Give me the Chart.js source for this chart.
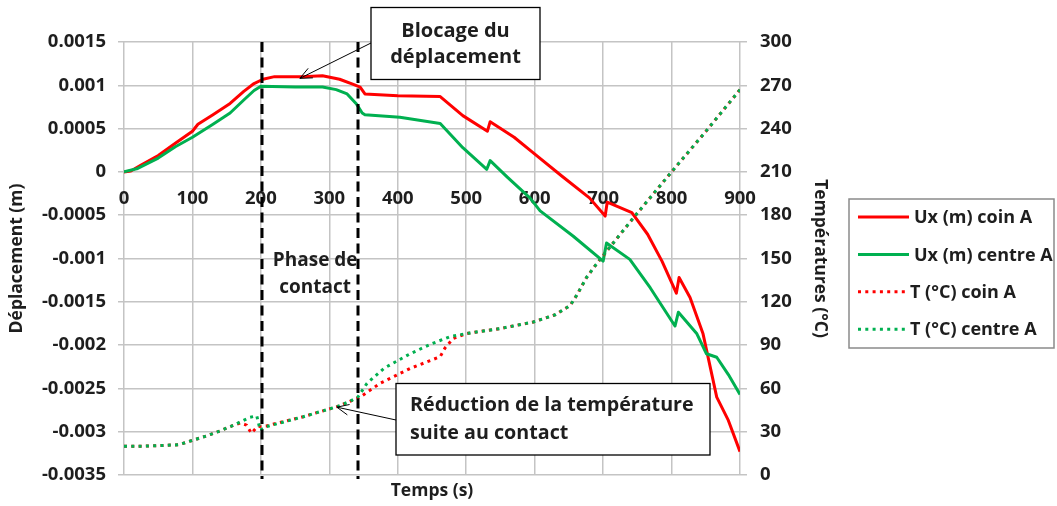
<!DOCTYPE html>
<html>
<head>
<meta charset="utf-8">
<script src="https://cdn.jsdelivr.net/npm/chart.js@4.4.1/dist/chart.umd.min.js"></script>
<style>
  html, body { margin: 0; padding: 0; background: #fff; }
  #wrap { width: 1057px; height: 506px; position: relative; }
</style>
</head>
<body>
<div id="wrap"><canvas id="chart" width="1057" height="506"></canvas></div>
<script>
// Temps (s) and values for each series
const uxCoinTime = [0, 10, 25, 50, 75, 100, 108, 130, 155, 175, 190, 203, 220, 260, 290, 315, 335, 345, 352, 400, 462, 495, 531, 535, 570, 598, 640, 680, 703, 706, 742, 765, 786, 807, 811, 827, 846, 866, 883, 900];
const uxCoin = [0, 0.00001, 0.00008, 0.00019, 0.00033, 0.00047, 0.00055, 0.00066, 0.00079, 0.00093, 0.00102, 0.00107, 0.0011, 0.0011, 0.00111, 0.00107, 0.00101, 0.00098, 0.0009, 0.00088, 0.00087, 0.00065, 0.00047, 0.00058, 0.0004, 0.00022, -0.00005, -0.0003, -0.00051, -0.00035, -0.00047, -0.00072, -0.00103, -0.0014, -0.00122, -0.00145, -0.00187, -0.0026, -0.00287, -0.00323];

const uxCentreTime = [0, 20, 50, 75, 100, 130, 155, 175, 190, 200, 250, 290, 310, 326, 340, 348, 352, 403, 462, 495, 530, 535, 560, 593, 608, 656, 700, 705, 739, 769, 805, 810, 837, 851, 866, 883, 900];
const uxCentre = [0, 0.00004, 0.00016, 0.00029, 0.0004, 0.00055, 0.00068, 0.00083, 0.00094, 0.00099, 0.00098, 0.00098, 0.00095, 0.0009, 0.00078, 0.00068, 0.00066, 0.00063, 0.00056, 0.00028, 0.00003, 0.00013, -0.00006, -0.0003, -0.00045, -0.00074, -0.00103, -0.00082, -0.00101, -0.00134, -0.00178, -0.00162, -0.00187, -0.0021, -0.00214, -0.00234, -0.00257];

const tCoinTime = [0, 30, 60, 80, 100, 120, 140, 160, 170, 179, 186, 195, 208, 262, 311, 330, 345, 374, 418, 462, 469, 481, 500, 550, 598, 630, 652, 662, 676, 690, 700, 744, 800, 850, 900];
const tCoin = [20, 20, 20.5, 21, 24, 27, 30.5, 34.5, 36, 34.6, 29, 33.5, 34, 40.4, 47.3, 51, 54, 63.5, 73.8, 82, 88, 94.6, 98, 101.5, 106, 111, 117.5, 125, 137, 146, 152, 178, 210, 238, 267];

const tCentreTime = [0, 30, 60, 80, 100, 120, 140, 160, 184, 194, 199, 208, 262, 311, 330, 342, 355, 380, 418, 450, 476, 500, 550, 598, 630, 652, 662, 676, 690, 700, 744, 800, 850, 900];
const tCentre = [20, 20, 20.5, 21, 24, 27, 30.5, 34.5, 40, 41, 31, 33.5, 40.4, 47.3, 51, 54.2, 63.5, 74, 84, 91, 95.8, 98, 101.5, 106, 111, 117.5, 125, 137, 146, 152, 178, 210, 238, 267];

// axis tick labels
const timeTicks = ['0', '100', '200', '300', '400', '500', '600', '700', '800', '900'];
const dispTicks = ['-0.0035', '-0.003', '-0.0025', '-0.002', '-0.0015', '-0.001', '-0.0005', '0', '0.0005', '0.001', '0.0015'];
const tempTicks = ['0', '30', '60', '90', '120', '150', '180', '210', '240', '270', '300'];

// contact phase limits (s)
const contactStart = 202;
const contactEnd = 342;

const RED = '#ff0000';
const GREEN = '#00b050';
const GRID = '#c4c4c4';
const INK = '#1e1e1e';
const FONT = '"Open Sans"';

const pts = (xs, ys) => xs.map((x, i) => ({ x, y: ys[i] }));

const dotted = [3, 4.3];

function arrow(ctx, x0, y0, x1, y1) {
  const a = Math.atan2(y1 - y0, x1 - x0);
  const L = 13, w = 0.42;
  ctx.beginPath();
  ctx.moveTo(x0, y0);
  ctx.lineTo(x1, y1);
  ctx.moveTo(x1 - L * Math.cos(a - w), y1 - L * Math.sin(a - w));
  ctx.lineTo(x1, y1);
  ctx.lineTo(x1 - L * Math.cos(a + w), y1 - L * Math.sin(a + w));
  ctx.stroke();
}

const overlay = {
  id: 'overlay',
  afterDatasetsDraw(chart) {
    const { ctx, chartArea: ca, scales } = chart;
    const x = scales.x, y = scales.y, y1 = scales.y1;
    ctx.save();

    // contact phase limits
    ctx.strokeStyle = '#000';
    ctx.lineWidth = 3;
    ctx.setLineDash([10, 5.5]);
    [contactStart, contactEnd].forEach(t => {
      const px = Math.round(x.getPixelForValue(t));
      ctx.beginPath();
      ctx.moveTo(px, ca.top);
      ctx.lineTo(px, ca.bottom + 4);
      ctx.stroke();
    });
    ctx.setLineDash([]);

    ctx.fillStyle = INK;
    ctx.font = 'bold 19px ' + FONT;
    ctx.textAlign = 'center';
    ctx.textBaseline = 'middle';
    const midPx = (x.getPixelForValue(contactStart) + x.getPixelForValue(contactEnd)) / 2 + 5;
    ctx.fillText('Phase de', midPx, 261);
    ctx.fillText('contact', midPx, 288);

    // "Blocage du déplacement" call-out
    ctx.font = 'bold 20px ' + FONT;
    ctx.lineWidth = 1.3;
    ctx.strokeStyle = '#000';
    ctx.fillStyle = '#fff';
    ctx.fillRect(371, 7.5, 169, 72);
    ctx.strokeRect(371, 7.5, 169, 72);
    ctx.fillStyle = INK;
    ctx.fillText('Blocage du', 455.5, 31);
    ctx.fillText('déplacement', 455.5, 57);
    ctx.lineWidth = 1;
    arrow(ctx, 371, 43, x.getPixelForValue(257), y.getPixelForValue(0.00108));

    // "Réduction de la température" call-out
    ctx.font = 'bold 19.7px ' + FONT;
    ctx.lineWidth = 1.3;
    ctx.fillStyle = '#fff';
    ctx.fillRect(396, 383.5, 314, 71.5);
    ctx.strokeRect(396, 383.5, 314, 71.5);
    ctx.fillStyle = INK;
    ctx.textAlign = 'left';
    ctx.fillText('Réduction de la température', 410, 405);
    ctx.fillText('suite au contact', 410, 433);
    ctx.lineWidth = 1;
    arrow(ctx, 396, 420, x.getPixelForValue(311), y1.getPixelForValue(47));

    // x axis title
    ctx.font = 'bold 17.5px ' + FONT;
    ctx.textAlign = 'center';
    ctx.fillText('Temps (s)', 432, 491);

    // legend
    const ds = chart.data.datasets;
    ctx.lineWidth = 1.5;
    ctx.strokeStyle = '#8a8a8a';
    ctx.fillStyle = '#fff';
    ctx.fillRect(849, 199, 205, 149);
    ctx.strokeRect(849, 199, 205, 149);
    ctx.font = 'bold 18px ' + FONT;
    ctx.textAlign = 'left';
    ds.forEach((d, i) => {
      const ly = 217 + i * 37.4;
      ctx.strokeStyle = d.borderColor;
      ctx.lineWidth = 3;
      ctx.setLineDash(d.borderDash || []);
      ctx.beginPath();
      ctx.moveTo(858, ly);
      ctx.lineTo(d.borderDash ? 905 : 909, ly);
      ctx.stroke();
      ctx.setLineDash([]);
      ctx.fillStyle = INK;
      ctx.fillText(d.label, d.borderDash ? 910 : 914, ly + 1);
    });
    ctx.restore();
  }
};

const tickFont = { family: FONT, size: 18.5, weight: 'bold' };
const titleFont = { family: FONT, size: 17.5, weight: 'bold' };

new Chart(document.getElementById('chart'), {
  type: 'line',
  data: {
    datasets: [
      { label: 'Ux (m) coin A', data: pts(uxCoinTime, uxCoin), yAxisID: 'y', borderColor: RED, borderWidth: 3, order: 4 },
      { label: 'Ux (m) centre A', data: pts(uxCentreTime, uxCentre), yAxisID: 'y', borderColor: GREEN, borderWidth: 3, order: 3 },
      { label: 'T (°C) coin A', data: pts(tCoinTime, tCoin), yAxisID: 'y1', borderColor: RED, borderWidth: 3, borderDash: dotted, order: 2 },
      { label: 'T (°C) centre A', data: pts(tCentreTime, tCentre), yAxisID: 'y1', borderColor: GREEN, borderWidth: 3, borderDash: dotted, order: 1 }
    ]
  },
  options: {
    responsive: false,
    animation: false,
    devicePixelRatio: 1,
    layout: { padding: { top: 42, bottom: 31, left: 0, right: 227 } },
    elements: { point: { radius: 0 }, line: { tension: 0, borderCapStyle: 'butt', borderJoinStyle: 'round' } },
    plugins: { legend: { display: false }, tooltip: { enabled: false } },
    scales: {
      x: {
        type: 'linear',
        position: { y: 0 },
        min: 0, max: 900,
        ticks: { stepSize: 100, padding: 16, color: INK, font: tickFont, maxRotation: 0,
          callback: (v, i) => timeTicks[i] },
        grid: { color: GRID, lineWidth: 1.5, drawTicks: false },
        border: { display: false }
      },
      y: {
        position: 'left',
        min: -0.0035, max: 0.0015,
        afterFit: s => { s.width = 124; },
        ticks: { stepSize: 0.0005, padding: 12, color: INK, font: tickFont,
          callback: (v, i) => dispTicks[i] },
        grid: { color: GRID, lineWidth: 1.5, tickLength: 6 },
        border: { display: false },
        title: { display: true, text: 'Déplacement (m)', color: INK, font: titleFont, padding: { top: 7, bottom: 0 } }
      },
      y1: {
        position: 'right',
        min: 0, max: 300,
        afterFit: s => { s.width = 90; },
        ticks: { stepSize: 30, padding: 13, color: INK, font: tickFont,
          callback: (v, i) => tempTicks[i] },
        grid: { color: GRID, lineWidth: 1.5, tickLength: 7, drawOnChartArea: false },
        border: { display: false },
        title: { display: true, text: 'Températures (°C)', color: INK, font: titleFont, padding: { top: 0, bottom: 0 } }
      }
    }
  },
  plugins: [overlay]
});
</script>
</body>
</html>
